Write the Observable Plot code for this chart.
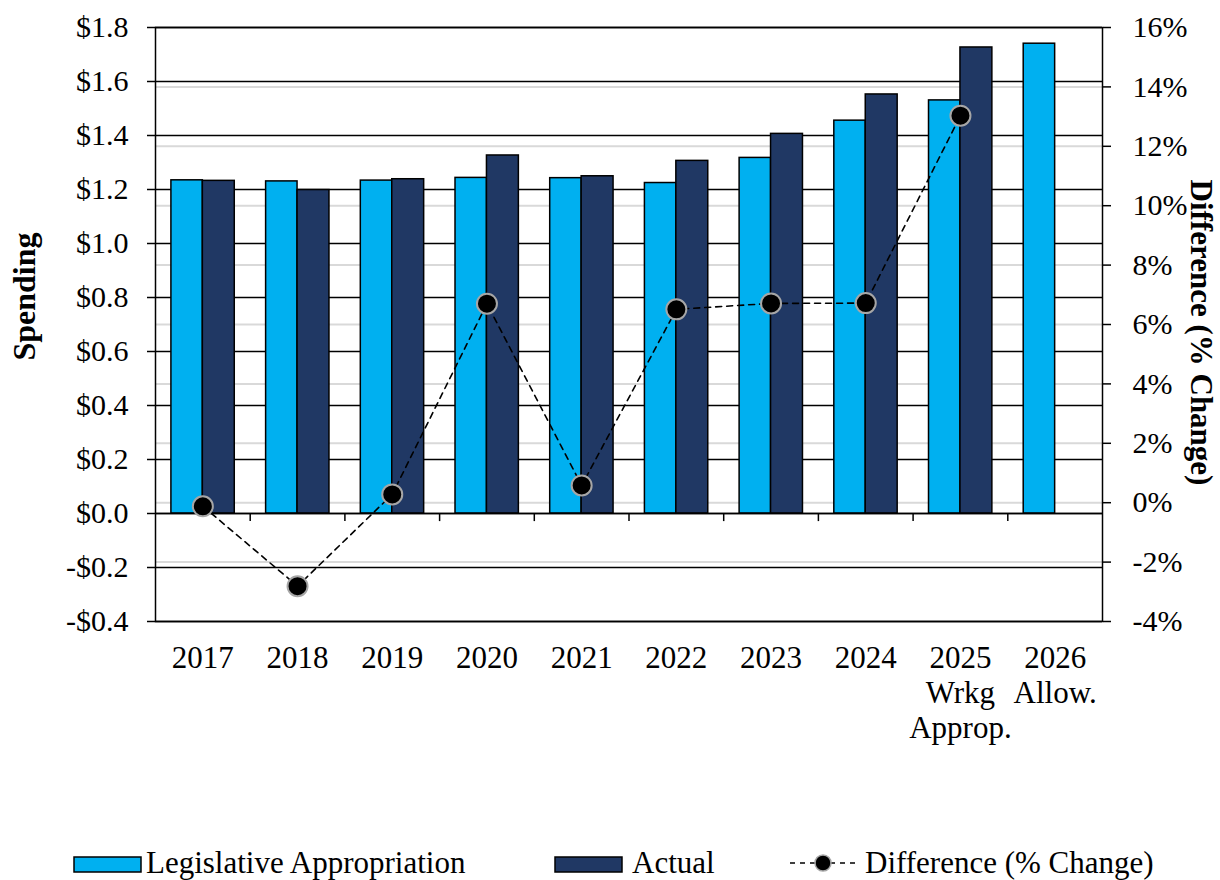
<!DOCTYPE html>
<html>
<head>
<meta charset="utf-8">
<script src="https://cdn.jsdelivr.net/npm/d3@7"></script>
<script src="https://cdn.jsdelivr.net/npm/@observablehq/plot@0.6"></script>
<style>
  html, body { margin: 0; padding: 0; background: #fff; }
  body { width: 1220px; height: 880px; overflow: hidden; font-family: "Liberation Serif", "Times New Roman", Times, "DejaVu Serif", serif; }
  #chart svg, #chart svg text { font-family: "Liberation Serif", "Times New Roman", Times, "DejaVu Serif", serif !important; }
  #legend { position: relative; width: 1220px; height: 45px; font-family: "Liberation Serif", "Times New Roman", Times, serif; font-size: 31px; color: #000; }
  #legend .item { position: absolute; white-space: nowrap; line-height: 30px; }
  #legend svg { position: absolute; }
</style>
</head>
<body>
<div id="chart"></div>
<div id="legend"></div>
<script>
// ---- data ----
const years = ["2017", "2018", "2019", "2020", "2021", "2022", "2023", "2024", "2025", "2026"];
const yearLabels = ["2017", "2018", "2019", "2020", "2021", "2022", "2023", "2024", "2025\nWrkg\nApprop.", "2026\nAllow."];
const legislative = [1.234, 1.230, 1.233, 1.243, 1.242, 1.224, 1.317, 1.455, 1.530, 1.740];
const actual = [1.232, 1.198, 1.238, 1.326, 1.249, 1.306, 1.406, 1.552, 1.726, null];
const diffPct = [-0.12, -2.81, 0.28, 6.7, 0.58, 6.51, 6.71, 6.72, 13.03, null];
const leftTicks = [-0.4, -0.2, 0, 0.2, 0.4, 0.6, 0.8, 1.0, 1.2, 1.4, 1.6, 1.8];
const rightTicks = [-4, -2, 0, 2, 4, 6, 8, 10, 12, 14, 16];
const seriesNames = ["Legislative Appropriation", "Actual", "Difference (% Change)"];

// ---- layout ----
const W = 1220, H = 835, ML = 155, MR = 118, MT = 27, MB = H - 621;
const bw = (W - ML - MR) / years.length;
const FONT = "'Liberation Serif', 'Times New Roman', Times, serif";
const C_LA = "#00B0F0", C_ACT = "#203864";

const table = years.map((y, i) => ({year: y, la: legislative[i], act: actual[i], diff: diffPct[i]}));
// secondary (percent) axis mapped onto the spending scale
const pctToY = d3.scaleLinear([-4, 16], [-0.4, 1.8]);
const labelOf = new Map(years.map((y, i) => [y, yearLabels[i]]));

const chart = Plot.plot({
  width: W, height: H,
  marginLeft: ML, marginRight: MR, marginTop: MT, marginBottom: MB,
  style: {fontFamily: FONT, fontSize: "30px", color: "#000", background: "#fff"},
  x: {type: "band", domain: years, padding: 0, round: false, axis: null},
  y: {domain: [-0.4, 1.8], axis: null},
  marks: [
    // right-axis (percent) gridlines, light gray
    Plot.ruleY(rightTicks, {y: d => pctToY(d), stroke: "#d9d9d9", strokeWidth: 2}),
    // left-axis gridlines, black
    Plot.ruleY(leftTicks, {stroke: "#000", strokeWidth: 1.3}),
    // bars
    Plot.barY(table, {x: "year", y: "la", fill: C_LA, stroke: "#000", strokeWidth: 1.5,
      insetLeft: bw * 0.168, insetRight: bw * 0.5}),
    Plot.barY(table.filter(d => d.act != null), {x: "year", y: "act", fill: C_ACT, stroke: "#000", strokeWidth: 1.5,
      insetLeft: bw * 0.5, insetRight: bw * 0.163}),
    // x axis line at zero and category boundary ticks
    Plot.ruleY([0], {stroke: "#000", strokeWidth: 1.5}),
    Plot.ruleX(years.slice(1), {x: d => d, dx: -bw / 2, y1: 0, y2: -0.03, stroke: "#000", strokeWidth: 1.5}),
    // frame (axis lines)
    Plot.frame({stroke: "#000", strokeWidth: 1.5}),
    // difference line and points
    Plot.line(table.filter(d => d.diff != null), {x: "year", y: d => pctToY(d.diff), stroke: "#000",
      strokeWidth: 1.6, strokeDasharray: "6,5"}),
    Plot.dot(table.filter(d => d.diff != null), {x: "year", y: d => pctToY(d.diff), r: 10, fill: "#000",
      stroke: "#a6a6a6", strokeWidth: 2}),
    // axes
    Plot.axisY(leftTicks, {anchor: "left", tickSize: 8, tickPadding: 19, fontSize: 30, strokeWidth: 1.5,
      tickFormat: d => (d < 0 ? "-$" : "$") + Math.abs(d).toFixed(1), label: null}),
    Plot.axisY(rightTicks.map(d => pctToY(d)), {anchor: "right", tickSize: 8, tickPadding: 22, fontSize: 30, strokeWidth: 1.5,
      tickFormat: d => Math.round(pctToY.invert(d)) + "%", label: null}),
    Plot.axisX(years, {anchor: "bottom", tickSize: 0, tickPadding: 22, fontSize: 31, lineHeight: 1.13,
      tickFormat: d => labelOf.get(d), label: null}),
    // axis titles
    Plot.text(["Spending"], {text: d => d, frameAnchor: "left", textAnchor: "middle", dx: -131, dy: -28, rotate: -90,
      fontWeight: "bold", fontSize: 32}),
    Plot.text(["Difference (% Change)"], {text: d => d, frameAnchor: "right", textAnchor: "middle", dx: 98, dy: 8, rotate: 90,
      fontWeight: "bold", fontSize: 31})
  ]
});
document.getElementById("chart").appendChild(chart);

// ---- legend ----
const legend = document.getElementById("legend");
legend.innerHTML = `
  <svg style="left:73px;top:21px" width="70" height="18"><rect x="1" y="1" width="67" height="15" fill="${C_LA}" stroke="#000" stroke-width="1.5"/></svg>
  <span class="item" style="left:146px;top:13px">${seriesNames[0]}</span>
  <svg style="left:554px;top:21px" width="70" height="18"><rect x="1" y="1" width="67" height="15" fill="${C_ACT}" stroke="#000" stroke-width="1.5"/></svg>
  <span class="item" style="left:632px;top:13px">${seriesNames[1]}</span>
  <svg style="left:788px;top:16px" width="72" height="24"><line x1="2" x2="68" y1="12" y2="12" stroke="#000" stroke-width="1.6" stroke-dasharray="5,5"/><circle cx="35" cy="12" r="8" fill="#000" stroke="#a6a6a6" stroke-width="1.5"/></svg>
  <span class="item" style="left:865px;top:13px">${seriesNames[2]}</span>
`;
</script>
</body>
</html>
